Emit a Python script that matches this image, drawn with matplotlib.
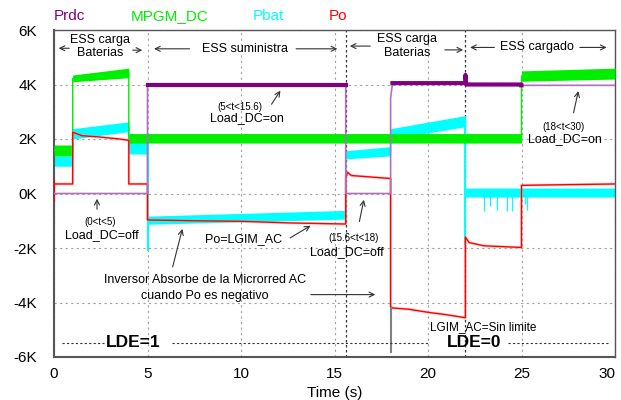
import numpy as np
import matplotlib
matplotlib.use("Agg")
import matplotlib.pyplot as plt

plt.rcParams['font.family'] = ['Liberation Sans', 'DejaVu Sans']

# ---------------- data (kW, time in s) ----------------
# MPGM_DC noisy band
mpgm_t  = [0, 1, 1, 4, 4, 25, 25, 30]
mpgm_lo = [1.38, 1.38, 4.10, 4.25, 1.85, 1.85, 4.12, 4.20]
mpgm_hi = [1.78, 1.78, 4.35, 4.60, 2.20, 2.20, 4.50, 4.60]

# Pbat noisy band
pbat_t  = [0, 1, 1, 4, 4, 5, 5, 15.6, 15.6, 18, 18, 22, 22, 30]
pbat_lo = [1.00, 1.00, 2.00, 2.27, 1.45, 1.45, -1.13, -0.94, 1.27, 1.38, 2.00, 2.45, -0.13, -0.13]
pbat_hi = [1.38, 1.38, 2.38, 2.63, 1.90, 1.90, -0.83, -0.62, 1.57, 1.72, 2.38, 2.86, 0.20, 0.20]
# Pbat switching transients
pbat_tr_t  = [0, 5, 22]
pbat_tr_lo = [-1.2, -2.1, -1.9]
pbat_tr_hi = [2.1, 1.9, 2.8]
# Pbat short dips after t=22
pbat_dip_t = [23.0, 23.3, 23.7, 24.2, 24.5, 25.2, 25.3]
pbat_dip_v = [-0.65, -0.45, -0.60, -0.65, -0.65, -0.40, -0.60]

# Po
po_t = [0, 1, 1, 1.5, 2.5, 3.5, 4, 4, 5, 5, 7.5, 10, 12.6, 15.6, 15.6, 15.7, 15.9,
        18, 18, 18.1, 19, 20, 21, 22, 22, 22.2, 23, 25, 25, 30]
po_v = [0.35, 0.35, 2.25, 2.12, 2.07, 2.00, 1.95, 0.35, 0.35, -0.97, -1.00, -1.02, -1.08,
        -1.12, 0.55, 0.78, 0.66, 0.55, -4.15, -4.20, -4.25, -4.36, -4.45, -4.56, -1.60,
        -1.80, -1.92, -1.98, 0.30, 0.35]
po_tr_t  = [0, 18]
po_tr_lo = [-0.3, -5.85]
po_tr_hi = [0.5, -4.15]

# Prdc
prdc_t = [0, 5, 5, 15.6, 15.6, 18, 18, 18.1, 22, 22, 22.05, 25, 25, 30]
prdc_v = [0, 0, 3.97, 3.97, 0, 0, 3.5, 4.05, 4.05, 4.35, 4.0, 4.0, 3.97, 3.97]
prdc_on = [(5, 15.6), (18.05, 25)]

xticks = [0, 5, 10, 15, 20, 25, 30]
yticks = [-6, -4, -2, 0, 2, 4, 6]
ylabels = ['-6K', '-4K', '-2K', '0K', '2K', '4K', '6K']

C_PRDC = '#800080'
C_PRDC_L = '#b070c0'
C_GREEN = '#00ee00'
C_CYAN = '#00ffff'
C_RED = '#ff0000'

# ---------------- figure ----------------
fig = plt.figure(figsize=(6.21, 4.0), dpi=100)
ax = fig.add_axes([54/621, 1-357/400, (615-54)/621, 327/400])
ax.set_xlim(0, 30)
ax.set_ylim(-6, 6)

ax.set_xticks(xticks)
ax.set_yticks(yticks)
ax.set_yticklabels(ylabels)
ax.tick_params(length=0, labelsize=11, pad=7)
ax.tick_params(axis='y', pad=12)
ax.get_xticklabels()[-1].set_horizontalalignment('right')
ax.grid(True, linestyle=(0, (2, 3)), color='#a0a0a0', linewidth=0.8)
for s in ax.spines.values():
    s.set_color('#555555')
    s.set_linewidth(1.0)
ax.spines['left'].set_linewidth(1.5)
ax.spines['bottom'].set_linewidth(1.5)
ax.set_xlabel('Time (s)', fontsize=11, labelpad=4)

# Green band
mt = np.array(mpgm_t); mlo = np.array(mpgm_lo); mhi = np.array(mpgm_hi)
ax.fill_between(mt, mlo, mhi, color=C_GREEN, lw=0, zorder=3)
ax.plot(mt, (mlo + mhi) / 2, color=C_GREEN, lw=1, zorder=3)

# Cyan band
bt = np.array(pbat_t); blo = np.array(pbat_lo); bhi = np.array(pbat_hi)
ax.fill_between(bt, blo, bhi, color=C_CYAN, lw=0, zorder=2)
ax.plot(bt, (blo + bhi) / 2, color=C_CYAN, lw=1, zorder=2)
ax.vlines(pbat_tr_t, pbat_tr_lo, pbat_tr_hi, color=C_CYAN, lw=1.5, zorder=2)
ax.vlines(pbat_dip_t, 0, pbat_dip_v, color=C_CYAN, lw=0.9, zorder=2)

# Red Po
ax.plot(po_t, po_v, color='#ff9a9a', lw=2.0, alpha=0.45, zorder=4)
ax.plot(po_t, po_v, color=C_RED, lw=1.0, zorder=4)
ax.vlines(po_tr_t[:1], po_tr_lo[:1], po_tr_hi[:1], color=C_RED, lw=1.5, zorder=4)
ax.vlines(po_tr_t[1:], po_tr_lo[1:], po_tr_hi[1:], color='#808080', lw=1.5, zorder=4)

# Prdc
pt = np.array(prdc_t); pv = np.array(prdc_v)
ax.plot(pt, pv, color=C_PRDC_L, lw=1.2, zorder=5)
for a, b in prdc_on:
    m = (pt >= a) & (pt <= b) & (pv > 3.9)
    ax.plot(pt[m], pv[m], color=C_PRDC, lw=3, zorder=5)

# Divider lines
for xv in [15.6, 22]:
    ax.axvline(xv, color='#333333', lw=0.9, linestyle=(0, (2, 2)), zorder=1)

# Legend texts
for lbl, x, col in [('Prdc', 54, C_PRDC), ('MPGM_DC', 131, C_GREEN),
                    ('Pbat', 253, C_CYAN), ('Po', 329, C_RED)]:
    fig.text(x/621, 1-16/400, lbl, color=col, fontsize=11, va='center', ha='left')

arr = dict(arrowstyle='->', color='#333333', lw=0.8, mutation_scale=9)
def arrow(x0, y0, x1, y1):
    ax.annotate('', xy=(x1, y1), xytext=(x0, y0), arrowprops=arr, zorder=6)

tk = dict(fontsize=9, ha='center', va='center', zorder=7)
# Phase labels
ax.text(2.46, 5.40, 'ESS carga\nBaterias', linespacing=1.15, **tk)
arrow(0.96, 5.33, 0.1, 5.33)
arrow(4.06, 5.26, 4.87, 5.26)
ax.text(10.19, 5.31, 'ESS suministra', **tk)
arrow(7.4, 5.31, 5.2, 5.31)
arrow(12.8, 5.31, 15.3, 5.31)
ax.text(18.9, 5.41, 'ESS carga\nBaterias', linespacing=1.15, **tk)
arrow(17.06, 5.41, 15.67, 5.41)
arrow(20.75, 5.27, 22.03, 5.27)
ax.text(25.8, 5.36, 'ESS cargado', **tk)
arrow(23.7, 5.36, 22.1, 5.36)
arrow(27.97, 5.36, 29.7, 5.36)

# Load annotations
sk = dict(fontsize=7, ha='center', va='center', zorder=7)
ax.text(9.95, 3.19, '(5<t<15.6)', **sk)
ax.text(10.3, 2.75, 'Load_DC=on', **tk)
arrow(11.55, 3.19, 12.19, 3.86)
ax.text(27.26, 2.45, '(18<t<30)', **sk)
ax.text(27.34, 2.01, 'Load_DC=on', **tk)
arrow(27.75, 2.86, 28.07, 3.86)
ax.text(2.46, -1.05, '(0<t<5)', **sk)
ax.text(2.55, -1.53, 'Load_DC=off', **tk)
arrow(2.30, -0.68, 2.30, -0.09)
ax.text(10.12, -1.68, 'Po=LGIM_AC', **tk)
arrow(12.5, -1.68, 13.85, -1.13)
ax.text(16.04, -1.62, '(15.6<t<18)', **sk)
ax.text(15.65, -2.15, 'Load_DC=off', **tk)
arrow(16.3, -1.13, 16.6, -0.13)
ax.text(8.1, -3.16, 'Inversor Absorbe de la Microrred AC', **tk)
ax.text(8.05, -3.75, 'cuando Po es negativo', **tk)
arrow(6.31, -2.79, 6.9, -1.2)
arrow(13.58, -3.71, 17.33, -3.71)
ax.text(22.96, -4.89, 'LGIM_AC=Sin limite', fontsize=8.5, ha='center', va='center', zorder=7)

# LDE
ax.text(4.24, -5.45, 'LDE=1', fontsize=12.5, fontweight='bold', ha='center', va='center', zorder=7)
ax.text(22.46, -5.48, 'LDE=0', fontsize=12.5, fontweight='bold', ha='center', va='center', zorder=7)
for a, b in [(0.45, 2.65), (6.3, 20.0), (24.3, 29.75)]:
    ax.plot([a, b], [-5.47, -5.47], color='#333333', lw=0.8, linestyle=(0, (2, 2)), zorder=6)

fig.savefig('out.png', dpi=100)
